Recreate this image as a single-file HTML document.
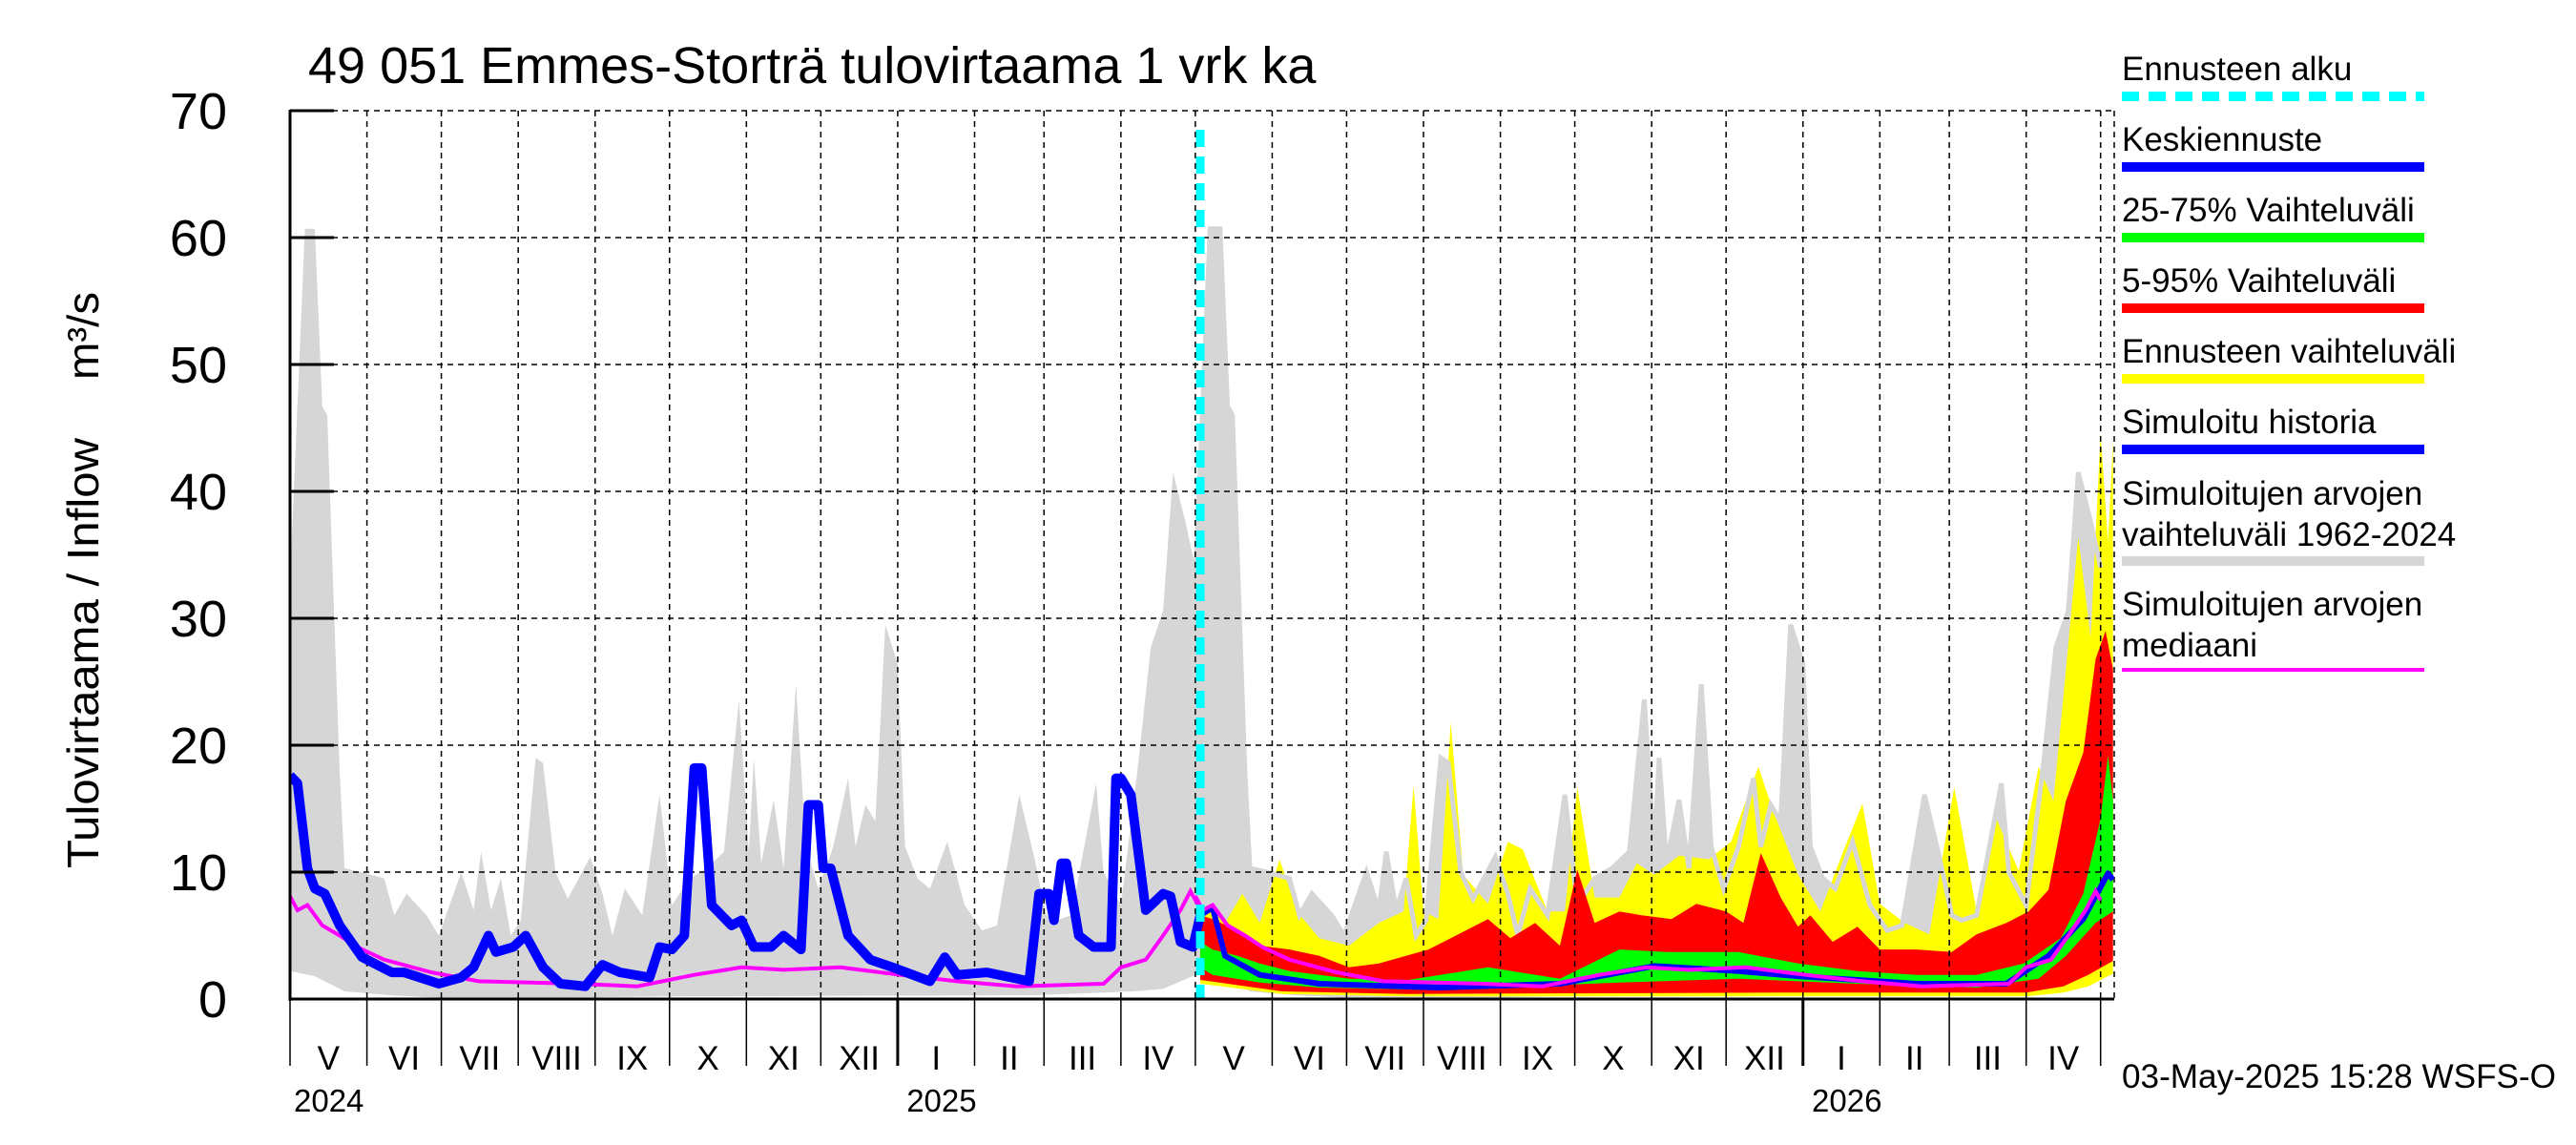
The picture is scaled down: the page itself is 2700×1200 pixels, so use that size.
<!DOCTYPE html>
<html><head><meta charset="utf-8"><style>
html,body{margin:0;padding:0;background:#fff}
svg{display:block;font-family:"Liberation Sans",Arial,sans-serif}
</style></head><body>
<svg id="chart" width="2700" height="1200" viewBox="0 0 2700 1200" xmlns="http://www.w3.org/2000/svg">
<defs><clipPath id="plotclip"><rect x="304" y="116" width="1912" height="931"/></clipPath></defs>
<text x="323" y="87" font-size="54">49 051 Emmes-Storträ tulovirtaama 1 vrk ka</text>
<g id="layers" clip-path="url(#plotclip)"></g>
<g id="grid"></g>
<g id="lines" clip-path="url(#plotclip)"></g>
<g id="axes"></g>
<text transform="translate(103,910) rotate(-90)" font-size="46" textLength="451" lengthAdjust="spacingAndGlyphs">Tulovirtaama / Inflow</text>
<text transform="translate(103,398) rotate(-90)" font-size="46" textLength="92" lengthAdjust="spacingAndGlyphs">m³/s</text>
<g id="legend"></g>
<text x="2224" y="1140" font-size="35" textLength="455" lengthAdjust="spacingAndGlyphs">03-May-2025 15:28 WSFS-O</text>
</svg>
<script>
// ---- data (days since 2024-05-01, values m3/s) ----
const climDays=[0,6,10,13,15,17,20,22,29,38,42,47,55,60,69,74,77,81,85,89,93,99,102,107,112,121,126,130,135,142,149,154,161,168,175,181,185,187,190,195,199,204,208,213,219,225,228,232,236,240,245,248,253,258,265,272,279,285,294,300,305,309,315,325,328,335,342,347,352,356,361,365];
const climMax=[33,60.7,60.7,46.7,46,34.7,18,10.3,10,9.5,6.6,8.3,6.6,5,10,7,11.6,7,9.5,5,6.2,19,18.6,10,7.9,11.2,8.3,5,8.7,6.6,16.1,7.4,9.5,10.3,11.6,23.6,11.6,19,10.7,15.7,10.3,24.8,12,8.7,12,17.4,12,15.3,14,29.5,26.4,12,9.5,8.7,12.4,7.4,5.4,5.8,16.1,11.2,6.6,6.2,6.6,17,10,7.4,18.6,27.7,30.6,41.5,37.6,34];
const climMinDays=[0,10,22,40,69,150,300,340,352,365];
const climMin=[2.2,1.8,0.6,0.3,0,0.2,0.3,0.6,0.8,1.9];
const medDays=[0,3,7,13,20,27,38,57,76,116,140,163,182,199,222,246,269,293,328,335,345,352,359,363,365];
const median=[8.1,7,7.4,5.8,5,4.1,3.1,2.1,1.4,1.2,1,1.9,2.5,2.3,2.5,1.9,1.4,1,1.2,2.5,3.1,5,7,8.5,7.8];
const histDays=[0,3,7,10,14,20,29,41,46,60,69,74,80,83,90,95,102,109,119,126,133,145,149,154,159,163,166,170,178,182,187,194,199,206,209,213,215,218,225,234,243,258,264,269,281,298,302,306,308,311,313,318,324,331,333,335,339,345,352,355,359,364,367];
const history=[17.6,17,10.3,8.7,8.3,5.8,3.3,2.1,2.1,1.2,1.7,2.5,5,3.7,4.1,5,2.5,1.2,1,2.7,2.1,1.7,4.1,3.9,5,18.2,18.2,7.4,5.8,6.2,4.1,4.1,5,3.9,15.3,15.3,10.3,10.3,5,3.1,2.5,1.4,3.3,1.9,2.1,1.4,8.3,8.3,6.2,10.7,10.7,5,4.1,4.1,17.4,17.4,16.1,7,8.3,8.1,4.5,4.1,6.6];
const yelDays=[367,372,377,384,391,399,406,415,427,439,449,453,457,463,468,473,483,491,497,507,514,519,526,536,543,550,560,572,581,592,598,608,617,626,634,641,651,661,671,680,688,697,705,711,716,721,726,730,733,735];
const yelMax=[7,7.5,6,8.3,6,11,6.9,4.8,4.2,6,6.9,16.8,6.9,6.3,21.8,9.8,7.5,12.4,11.8,6.9,6.9,16.7,8,8,10.7,9.8,11.3,11,12.4,18.3,14.8,9.8,6.9,11.5,15.4,7.5,6,5.1,16.7,6.9,14.2,10.1,18.3,15.6,25.9,36.4,28.5,44.6,36,44];
const lowDays=[367,400,450,600,700,715,725,735];
const yelMin=[1.2,0.4,0.2,0.2,0.2,0.5,1,2];
const redMin=[1.5,0.6,0.4,0.5,0.5,1,1.9,3];
const redDays=[367,372,382,391,403,415,427,439,459,468,483,492,502,512,519,526,536,545,557,567,579,586,593,601,608,613,622,632,641,656,670,680,692,701,709,716,723,728,732,735];
const redMax=[6.6,6.3,5.4,4.2,3.9,3.4,2.5,2.8,3.9,4.8,6.3,4.8,6,4.2,10.2,6,6.9,6.6,6.3,7.5,6.9,6,11.5,8,5.7,6.6,4.5,5.7,3.9,3.9,3.7,5.1,6,6.9,8.6,15.6,19.4,26.8,29,26];
const grnDays=[367,372,382,391,403,427,451,483,512,536,555,584,608,632,656,680,699,714,723,730,733,735];
const grnMax=[4.5,3.9,3.4,2.8,2.2,1.6,1.5,2.5,1.6,3.9,3.7,3.7,2.8,2.2,1.9,1.9,2.8,4.8,8.3,14.2,19.2,15.6];
const grnMinDays=[367,372,391,415,463,536,584,632,680,705,716,728,735];
const grnMin=[2.5,1.9,1.3,0.9,0.7,1.3,1.6,1.2,0.9,1.6,3.4,6,6.9];
const fcDays=[367,372,377,391,415,463,512,550,584,608,632,656,692,709,723,733,735];
const forecast=[6.6,7.2,3.4,1.9,1.2,0.9,1.2,2.6,2.2,1.8,1.5,1.2,1.2,3.4,6.3,9.9,9.4];
const yTicks=[0,10,20,30,40,50,60,70];
const monthStarts=[0,31,61,92,123,153,184,214,245,276,304,335,365,396,426,457,488,518,549,579,610,641,669,700,730];
const monthLabels=["V","VI","VII","VIII","IX","X","XI","XII","I","II","III","IV","V","VI","VII","VIII","IX","X","XI","XII","I","II","III","IV"];
const yearLabels=["2024","2025","2026"];
const yearDays=[0,245,610];
const forecastStart=367;

// ---- scales ----
const X0=304,X1=2216,Y0=1047,YT=116,DMAX=735.5;
const xs=d=>X0+(X1-X0)*d/DMAX;
const ys=v=>Y0-(Y0-YT)*v/70;
const NS="http://www.w3.org/2000/svg";
function mk(tag,attrs,parent){const e=document.createElementNS(NS,tag);for(const k in attrs)e.setAttribute(k,attrs[k]);parent.appendChild(e);return e;}
function pts(days,vals,off){return days.map((d,i)=>xs(d+off).toFixed(1)+","+ys(vals[i]).toFixed(1));}
function band(dT,vT,dB,vB,off){const t=pts(dT,vT,off),b=pts(dB,vB,off).reverse();return "M"+t.join("L")+"L"+b.join("L")+"Z";}
const layers=document.getElementById("layers"),lines=document.getElementById("lines"),grid=document.getElementById("grid"),axes=document.getElementById("axes"),legend=document.getElementById("legend");

[0,365,-365].forEach(off=>{
  const p=mk("path",{d:band(climDays,climMax,climMinDays,climMin,off),fill:"#d6d6d6"},layers);
  
  
});
const yb=mk("path",{d:band(yelDays,yelMax,lowDays,yelMin,0),fill:"#ffff00"},layers);


const gl=mk("polyline",{points:pts(climDays,climMax,365).join(" "),fill:"none",stroke:"#d6d6d6","stroke-width":5},layers);


const rb=mk("path",{d:band(redDays,redMax,lowDays,redMin,0),fill:"#ff0000"},layers);


const gb=mk("path",{d:band(grnDays,grnMax,grnMinDays,grnMin,0),fill:"#00ff00"},layers);



yTicks.forEach(v=>{ if(v===0)return;
  const l=mk("line",{x1:X0,x2:X1,y1:ys(v),y2:ys(v),stroke:"#000","stroke-width":1.5,"stroke-dasharray":"6,5"},grid);
  
  
});
monthStarts.forEach(d=>{ if(d===0)return;
  const l=mk("line",{x1:xs(d),x2:xs(d),y1:YT,y2:Y0,stroke:"#000","stroke-width":1.5,"stroke-dasharray":"6,5"},grid);
  
  
});
const rl=mk("line",{x1:X1,x2:X1,y1:YT,y2:Y0,stroke:"#000","stroke-width":1.5,"stroke-dasharray":"6,5"},grid);



const md=[];[0,365].forEach(o=>md.push(...pts(medDays,median,o)));
const ml=mk("polyline",{points:md.join(" "),fill:"none",stroke:"#ff00ff","stroke-width":4},lines);


const fl=mk("polyline",{points:pts(fcDays,forecast,0).join(" "),fill:"none",stroke:"#0000ff","stroke-width":6,"stroke-linejoin":"round"},lines);


const ml2=mk("polyline",{points:pts(medDays,median,365).join(" "),fill:"none",stroke:"#ff00ff","stroke-width":4},lines);


const hl=mk("polyline",{points:pts(histDays,history,0).join(" "),fill:"none",stroke:"#0000ff","stroke-width":10,"stroke-linejoin":"round"},lines);


const cl=mk("line",{x1:xs(forecastStart),x2:xs(forecastStart),y1:YT+20,y2:Y0,stroke:"#00ffff","stroke-width":9,"stroke-dasharray":"18,10"},lines);



const la=mk("line",{x1:X0,x2:X0,y1:YT-1,y2:Y0+2,stroke:"#000","stroke-width":3},axes);


const ba=mk("line",{x1:X0,x2:X1,y1:Y0,y2:Y0,stroke:"#000","stroke-width":3},axes);


yTicks.forEach(v=>{
  const t=mk("line",{x1:X0,x2:X0+46,y1:ys(v),y2:ys(v),stroke:"#000","stroke-width":3},axes);
  
  
  const tx=mk("text",{x:238,y:ys(v)+19,"font-size":54,"text-anchor":"end"},axes);
  tx.textContent=v;
  
  
});
monthStarts.forEach(d=>{
  const isYear=yearDays.includes(d)&&d>0;
  const t=mk("line",{x1:xs(d),x2:xs(d),y1:Y0,y2:1117,stroke:"#000","stroke-width":isYear?3:1.5},axes);
  
  
});
monthLabels.forEach((m,i)=>{
  const t=mk("text",{x:(xs(monthStarts[i])+xs(monthStarts[i+1]))/2,y:1121,"font-size":35,"text-anchor":"middle"},axes);
  t.textContent=m;
  
  
});
yearLabels.forEach((y,i)=>{
  const t=mk("text",{x:i===0?308:xs(yearDays[i])+46,y:1165,"font-size":33,"text-anchor":i===0?"start":"middle"},axes);
  t.textContent=y;
  
  
});

const legItems=[["Ennusteen alku",null,"#00ffff",84,101,true],["Keskiennuste",null,"#0000ff",158,175],["25-75% Vaihteluväli",null,"#00ff00",232,249],["5-95% Vaihteluväli",null,"#ff0000",306,323],["Ennusteen vaihteluväli",null,"#ffff00",380,397],["Simuloitu historia",null,"#0000ff",454,471],["Simuloitujen arvojen","vaihteluväli 1962-2024","#d6d6d6",529,588],["Simuloitujen arvojen","mediaani","#ff00ff",645,702]];
legItems.forEach(it=>{
  const g=mk("g",{},legend);
  
  
  const t=mk("text",{x:2224,y:it[3],"font-size":35},g);
  t.textContent=it[0];
  if(it[1]){const t2=mk("text",{x:2224,y:it[3]+43,"font-size":35},g);t2.textContent=it[1];}
  const attrs={x1:2224,x2:2541,y1:it[4],y2:it[4],stroke:it[2],"stroke-width":it[2]==="#ff00ff"?4:10};
  if(it[5])attrs["stroke-dasharray"]="18,10";
  mk("line",attrs,g);
});
</script>
</body></html>
